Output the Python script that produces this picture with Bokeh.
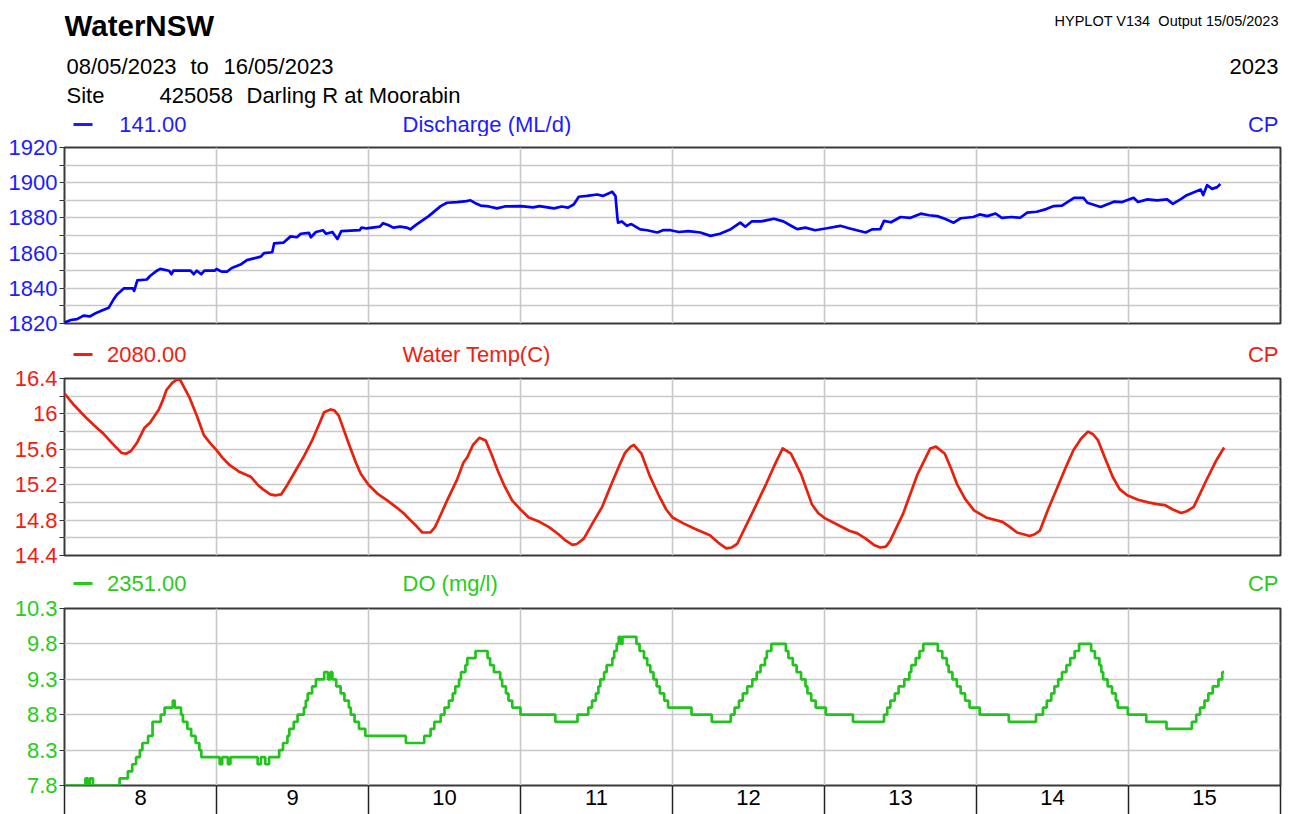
from bokeh.plotting import figure
from bokeh.layouts import column
from bokeh.models import Label, FixedTicker, PrintfTickFormatter, Range1d, Grid, BoxAnnotation
from bokeh.embed import file_html
from bokeh.resources import INLINE

# ---------------- data (hours since 08/05/2023 00:00) ----------------
DAY_EDGES = [0, 24, 48, 72, 96, 120, 144, 168, 192]
DAY_MIDS = [12, 36, 60, 84, 108, 132, 156, 180]
DAY_LABELS = ["8", "9", "10", "11", "12", "13", "14", "15"]

Q_TICKS = [1820, 1840, 1860, 1880, 1900, 1920]
Q_MINOR = [1830, 1850, 1870, 1890, 1910]
T_TICKS = [14.4, 14.8, 15.2, 15.6, 16.0, 16.4]
T_MINOR = [14.6, 15.0, 15.4, 15.8, 16.2]
DO_TICKS = [7.8, 8.3, 8.8, 9.3, 9.8, 10.3]

Q_HOURS = [0, 1, 2, 3, 4, 5, 6, 7, 7.8, 8.3, 9.4, 10.8, 11, 11.5, 13, 13.5, 14.6, 15.1, 16.5, 16.9,
           17.2, 19.9, 20.4, 20.9, 21.6, 22.1, 23.7, 24, 24.8, 25.7, 26.2, 26.7, 27.8, 28.8, 29.9,
           31, 31.5, 32.8, 33.1, 34.6, 35.7, 36.7, 37.3, 38.6, 38.9, 39.7, 40.8, 41.3, 42.3, 43.1,
           43.7, 46.6, 46.9, 47.7, 49.8, 50.3, 51.1, 51.9, 53, 54, 54.6, 55.5, 56.7, 57.5, 58.5,
           59.4, 60.4, 62, 63.5, 64.1, 64.8, 65.7, 67, 68.3, 69.5, 72, 74, 75, 77.3, 78.5, 79.5,
           80.4, 81.2, 82.5, 84.1, 85, 86.5, 87, 87.3, 87.4, 88, 88.8, 89.5, 90.9, 92, 93.6, 94.5,
           95.7, 97, 98.5, 100.4, 102, 103.5, 105.2, 106.7, 107.5, 108.5, 110, 112, 113.5, 115,
           115.7, 117, 118.5, 120.4, 122.5, 124, 126.5, 127.5, 128.8, 129.4, 130.5, 132, 133.5,
           135.2, 136.5, 137.8, 139, 140.4, 141.5, 143.5, 144.5, 145.7, 147, 148, 149.5, 150.9,
           152, 153.5, 155, 156.2, 157.5, 159.4, 160.9, 161.5, 163.6, 165.7, 167, 168.8, 169.5,
           171, 172.5, 174.1, 175, 176.2, 177.2, 179.4, 179.8, 180.4, 181.2, 182, 182.5]
Q_VALUES = [1820.5, 1822, 1822.5, 1824.5, 1824, 1826, 1827.5, 1829, 1834, 1836.5, 1840, 1840, 1838.5,
            1844.5, 1845, 1847, 1850, 1851, 1850, 1848, 1850, 1850, 1848, 1850, 1848, 1850, 1850,
            1851, 1849.5, 1849.5, 1851, 1852, 1853.5, 1856, 1857, 1858, 1860, 1860.5, 1865.5, 1866,
            1869.5, 1869, 1871, 1871.5, 1869, 1872, 1873, 1871, 1872, 1868, 1872.5, 1873, 1874.5,
            1874, 1875, 1877, 1876, 1874.5, 1875, 1874.5, 1873.5, 1876, 1879, 1881, 1884, 1886.7,
            1888.6, 1889, 1889.5, 1890, 1888.5, 1887, 1886.5, 1885.4, 1886.5, 1886.7, 1886, 1886.7,
            1885.4, 1886.5, 1885.8, 1887.6, 1892, 1892.5, 1893.3, 1892.5, 1894.8, 1892.4, 1880,
            1877.3, 1878, 1875.5, 1876.5, 1873.5, 1873, 1871.7, 1873, 1873, 1872, 1872.5, 1871.7,
            1869.8, 1871, 1873.6, 1877.3, 1875, 1878, 1878, 1879.5, 1878, 1875, 1873.6, 1874.5,
            1873, 1874.1, 1875.5, 1874, 1871.7, 1873.5, 1873.6, 1878.3, 1877.5, 1880.5, 1880,
            1882.4, 1881.5, 1881, 1879.5, 1877.3, 1879.8, 1880.5, 1882, 1881, 1882.5, 1880, 1880.5,
            1880.1, 1883, 1883.5, 1885, 1886.7, 1887, 1891.4, 1891.4, 1888.6, 1886.2, 1889.2, 1889,
            1891.4, 1889, 1890.5, 1890, 1890.5, 1888, 1890.5, 1892.9, 1896.1, 1893, 1898.6, 1896.5,
            1897.5, 1899.3]

T_HOURS = [0, 1.5, 3.5, 5, 6.1, 7.5, 9.0, 9.7, 10.5, 11.5, 12.6, 13.5, 14.9, 15.5, 16.1, 17.0, 17.8,
           18.3, 19.7, 21, 22, 23, 24, 25, 26.1, 27.5, 29.4, 30.5, 31.3, 32.5, 33.3, 34.2, 35.2,
           36.5, 37.8, 39.1, 40.3, 41.0, 42.0, 42.6, 43.3, 44.1, 44.9, 46.0, 46.8, 48, 49.4, 51,
           52.3, 53.5, 54.6, 55.6, 56.5, 57.8, 58.5, 59.4, 60.4, 62, 63.0, 63.6, 64.5, 65.5, 66.5,
           67.5, 68.4, 69.5, 70.7, 72, 73.3, 75, 76.5, 78, 79.1, 80.2, 80.9, 82, 83.5, 84.9, 86.2,
           87.5, 88.5, 89.4, 89.9, 90.5, 91.1, 92.4, 93.7, 95, 96, 97.8, 99.6, 101.9, 103.3, 104.5,
           105.3, 106.2, 107.5, 108.8, 110.8, 112.3, 113.4, 114.7, 116.3, 118, 119, 120.1, 122,
           123.9, 125.2, 126.5, 127.8, 128.8, 129.7, 130.4, 131.4, 132.4, 134.7, 136.7, 137.6,
           139, 140.0, 140.9, 142.2, 143.6, 145.5, 148.1, 149.3, 150.4, 152.4, 153.2, 154, 155.3,
           156.6, 158, 159.3, 160.5, 161.6, 162.4, 163.2, 164.3, 165.5, 166.6, 167.8, 169.5,
           171.1, 172.5, 173.7, 175, 176.3, 177.2, 178.3, 179.3, 180.3, 181.9, 183.1]
T_VALUES = [16.23, 16.1, 15.95, 15.85, 15.78, 15.67, 15.56, 15.55, 15.58, 15.68, 15.84, 15.9, 16.05,
            16.15, 16.27, 16.35, 16.39, 16.38, 16.19, 15.96, 15.76, 15.67, 15.59, 15.5, 15.42,
            15.35, 15.29, 15.2, 15.15, 15.09, 15.08, 15.09, 15.2, 15.36, 15.52, 15.70, 15.9, 16.02,
            16.05, 16.04, 15.98, 15.82, 15.66, 15.45, 15.32, 15.2, 15.10, 15.02, 14.95, 14.88, 14.80,
            14.73, 14.66, 14.66, 14.72, 14.86, 15.02, 15.26, 15.45, 15.51, 15.65, 15.73, 15.70,
            15.53, 15.36, 15.18, 15.02, 14.92, 14.83, 14.78, 14.72, 14.64, 14.57, 14.52, 14.53,
            14.59, 14.78, 14.95, 15.18, 15.40, 15.56, 15.63, 15.65, 15.6, 15.55, 15.3, 15.10, 14.92,
            14.83, 14.76, 14.70, 14.63, 14.54, 14.48, 14.49, 14.53, 14.72, 14.91, 15.21, 15.45,
            15.61, 15.55, 15.32, 14.98, 14.88, 14.82, 14.75, 14.68, 14.65, 14.59, 14.52, 14.49,
            14.5, 14.57, 14.72, 14.87, 15.32, 15.61, 15.63, 15.55, 15.38, 15.21, 15.04, 14.91,
            14.83, 14.78, 14.72, 14.66, 14.62, 14.64, 14.68, 14.92, 15.14, 15.38, 15.59, 15.72,
            15.80, 15.77, 15.70, 15.50, 15.29, 15.15, 15.08, 15.03, 15.00, 14.98, 14.97, 14.92,
            14.88, 14.9, 14.95, 15.1, 15.25, 15.48, 15.62]

DO_HOURS = [0, 3.3, 3.7, 4.0, 4.5, 8.7, 10.0, 10.7, 11.3, 11.9, 12.3, 13.2, 13.9, 15.2, 15.8, 17.1,
            17.4, 18.4, 18.7, 19.4, 20.0, 20.7, 21.3, 21.6, 24.5, 24.9, 25.8, 26.2, 30.5, 31.0, 31.7,
            32.3, 33.9, 34.5, 35.2, 35.5, 36.2, 36.8, 37.8, 38.1, 38.4, 39.1, 39.7, 41.0, 41.6, 42.0,
            42.3, 42.9, 43.6, 44.2, 44.9, 45.2, 45.8, 46.5, 47.5, 53.9, 56.8, 57.8, 58.4, 59.4, 60.0,
            60.7, 61.3, 61.7, 62.3, 62.6, 63.3, 63.6, 64.9, 66.8, 67.2, 67.8, 68.8, 69.1, 69.7, 70.1,
            70.7, 72.0, 77.5, 81.0, 82.7, 83.3, 83.9, 84.3, 84.6, 85.2, 85.6, 86.5, 86.8, 87.2, 87.5,
            87.8, 88.1, 90.3, 90.8, 91.5, 92.0, 92.5, 93.0, 93.5, 94.0, 94.7, 95.3, 99.0, 102.2,
            105.2, 105.8, 106.5, 107.1, 107.8, 108.6, 109.3, 109.9, 110.6, 110.9, 111.6, 113.9,
            114.3, 115.0, 115.6, 116.3, 117.0, 117.3, 117.9, 118.6, 120.2, 124.5, 129.4, 129.9,
            130.4, 131.1, 131.7, 132.6, 133.4, 133.7, 134.4, 135.0, 135.6, 137.9, 138.6, 139.3,
            139.6, 140.2, 140.9, 141.5, 142.2, 142.9, 144.5, 149.1, 153.4, 154.5, 155.1, 155.8,
            156.3, 156.9, 157.5, 158.2, 158.8, 159.5, 160.2, 162.1, 162.7, 163.4, 163.7, 164.0,
            164.7, 165.4, 166.0, 166.3, 167.9, 170.8, 174.0, 178.0, 178.7, 179.3, 180.0, 180.6,
            181.3, 182.2, 182.8, 183.1]
DO_VALUES = [7.8, 7.9, 7.8, 7.9, 7.8, 7.9, 8.0, 8.1, 8.2, 8.3, 8.4, 8.5, 8.7, 8.8, 8.9, 9.0, 8.9,
             8.8, 8.7, 8.6, 8.5, 8.4, 8.3, 8.2, 8.1, 8.2, 8.1, 8.2, 8.1, 8.2, 8.1, 8.2, 8.3, 8.4,
             8.5, 8.6, 8.7, 8.8, 8.9, 9.0, 9.1, 9.2, 9.3, 9.4, 9.3, 9.4, 9.3, 9.2, 9.1, 9.0, 8.9,
             8.8, 8.7, 8.6, 8.5, 8.4, 8.5, 8.6, 8.7, 8.8, 8.9, 9.0, 9.1, 9.2, 9.3, 9.4, 9.5, 9.6,
             9.7, 9.6, 9.5, 9.4, 9.3, 9.2, 9.1, 9.0, 8.9, 8.8, 8.7, 8.8, 8.9, 9.0, 9.1, 9.2, 9.3,
             9.4, 9.5, 9.6, 9.7, 9.8, 9.9, 9.8, 9.9, 9.8, 9.7, 9.6, 9.5, 9.4, 9.3, 9.2, 9.1, 9.0,
             8.9, 8.8, 8.7, 8.8, 8.9, 9.0, 9.1, 9.2, 9.3, 9.4, 9.5, 9.6, 9.7, 9.8, 9.7, 9.6, 9.5,
             9.4, 9.3, 9.2, 9.1, 9.0, 8.9, 8.8, 8.7, 8.8, 8.9, 9.0, 9.1, 9.2, 9.3, 9.4, 9.5, 9.6,
             9.7, 9.8, 9.7, 9.6, 9.5, 9.4, 9.3, 9.2, 9.1, 9.0, 8.9, 8.8, 8.7, 8.8, 8.9, 9.0, 9.1,
             9.2, 9.3, 9.4, 9.5, 9.6, 9.7, 9.8, 9.7, 9.6, 9.5, 9.4, 9.3, 9.2, 9.1, 9.0, 8.9, 8.8,
             8.7, 8.6, 8.7, 8.8, 8.9, 9.0, 9.1, 9.2, 9.3, 9.4, 9.4]

# ---------------- styling ----------------
FONT = "Liberation Sans"
BLUE_LINE, BLUE_TXT = "#0000ff", "#1c1cff"
RED_LINE, RED_TXT = "#e8200c", "#f02010"
GREEN_LINE, GREEN_TXT = "#22c31c", "#28cc18"
GRID_C = "#c8c8c8"
LEFT, FRAME_W, RIGHT = 64, 1216, 8


def header_fig(h):
    """Blank strip with the same frame as the panels; data units == page pixels (y down)."""
    p = figure(frame_width=FRAME_W, frame_height=h, min_border_left=LEFT, min_border_right=RIGHT,
               min_border_top=0, min_border_bottom=0,
               x_range=Range1d(LEFT, LEFT + FRAME_W), y_range=Range1d(h, 0),
               x_axis_location=None, y_axis_location=None,
               toolbar_location=None, output_backend="svg")
    p.outline_line_color = None
    p.background_fill_color = "white"
    p.border_fill_color = "white"
    p.grid.visible = False
    return p


def txt(p, px, py, s, size="22px", color="black", align="left", bold=False):
    p.add_layout(Label(x=px, y=py, text=s, text_font=FONT, text_font_size=size,
                       text_color=color, text_align=align, text_baseline="middle",
                       text_font_style="bold" if bold else "normal"))


def series_header(p, py, val, name, color):
    p.add_layout(BoxAnnotation(left=73, right=92, top=py - 1.5, bottom=py + 1.5,
                               fill_color=color, fill_alpha=1, line_color=None))
    txt(p, 186, py, val, color=color, align="right")
    txt(p, 402, py, name, color=color)
    txt(p, 1278, py, "CP", color=color, align="right")


def panel_fig(top, bottom, frame_h, y_lo, y_hi, show_x):
    p = figure(frame_width=FRAME_W, frame_height=frame_h,
               min_border_left=LEFT, min_border_right=RIGHT,
               min_border_top=top, min_border_bottom=bottom,
               x_range=Range1d(0, 192), y_range=Range1d(y_lo, y_hi),
               toolbar_location=None, output_backend="svg",
               x_axis_location="below" if show_x else None)
    p.background_fill_color = "white"
    p.border_fill_color = "white"
    p.outline_line_color = "#3a3a3a"
    p.outline_line_width = 2
    p.outline_line_alpha = 1
    p.center = [r for r in p.center if not isinstance(r, Grid)]
    return p


def add_grids(p, yticks):
    p.add_layout(Grid(dimension=0, ticker=FixedTicker(ticks=DAY_EDGES),
                      grid_line_color=GRID_C, grid_line_width=1.6), "center")
    p.add_layout(Grid(dimension=1, ticker=FixedTicker(ticks=yticks),
                      grid_line_color=GRID_C, grid_line_width=1.6), "center")


def style_y(p, ticks, minor, color):
    ax = p.yaxis[0]
    ax.ticker = FixedTicker(ticks=ticks, minor_ticks=minor)
    ax.formatter = PrintfTickFormatter(format="%g")
    ax.major_label_text_font = FONT
    ax.major_label_text_font_size = "22px"
    ax.major_label_text_color = color
    ax.major_label_standoff = 2
    ax.major_tick_out = 5
    ax.major_tick_in = 0
    ax.minor_tick_out = 5
    ax.minor_tick_in = 0
    ax.major_tick_line_color = "#333333"
    ax.minor_tick_line_color = "#333333"
    ax.axis_line_color = None


# ---------------- top header (page y 0..136) ----------------
h1 = header_fig(136)
txt(h1, 64, 25, "WaterNSW", size="29.5px", bold=True)
txt(h1, 1054, 20, "HYPLOT V134", size="14.5px")
txt(h1, 1278, 20, "Output 15/05/2023", size="14.5px", align="right")
txt(h1, 66, 66, "08/05/2023")
txt(h1, 190, 66, "to")
txt(h1, 223, 66, "16/05/2023")
txt(h1, 1278, 66, "2023", align="right")
txt(h1, 66, 95, "Site")
txt(h1, 159, 95, "425058")
txt(h1, 246, 95, "Darling R at Moorabin")
series_header(h1, 124, "141.00", "Discharge (ML/d)", BLUE_TXT)

# ---------------- panel 1 : discharge (page y 136..337) ----------------
p1 = panel_fig(11, 14, 176, 1820, 1920, False)
add_grids(p1, sorted(Q_TICKS + Q_MINOR))
style_y(p1, Q_TICKS, Q_MINOR, BLUE_TXT)
p1.line(Q_HOURS, Q_VALUES, line_color=BLUE_LINE, line_width=2.7, line_join="round")

# ---------------- header 2 (page y 337..366) ----------------
h2 = header_fig(29)
series_header(h2, 17, "2080.00", "Water Temp(C)", RED_TXT)

# ---------------- panel 2 : water temperature (page y 366..568) ----------------
p2 = panel_fig(12, 13, 177, 14.4, 16.4, False)
add_grids(p2, sorted(T_TICKS + T_MINOR))
style_y(p2, T_TICKS, T_MINOR, RED_TXT)
p2.line(T_HOURS, T_VALUES, line_color=RED_LINE, line_width=2.7, line_join="round")

# ---------------- header 3 (page y 568..596) ----------------
h3 = header_fig(28)
series_header(h3, 15, "2351.00", "DO (mg/l)", GREEN_TXT)

# ---------------- panel 3 : dissolved oxygen (page y 596..814) ----------------
p3 = panel_fig(12, 29, 177, 7.8, 10.3, True)
add_grids(p3, DO_TICKS)
style_y(p3, DO_TICKS, [], GREEN_TXT)
p3.step(DO_HOURS, DO_VALUES, mode="after", line_color=GREEN_LINE, line_width=2.7)

xa = p3.xaxis[0]
xa.ticker = FixedTicker(ticks=DAY_MIDS, minor_ticks=DAY_EDGES)
xa.major_label_overrides = {m: lab for m, lab in zip(DAY_MIDS, DAY_LABELS)}
xa.major_label_text_font = FONT
xa.major_label_text_font_size = "22px"
xa.major_label_text_color = "black"
xa.major_tick_out = 29
xa.major_tick_in = 0
xa.major_tick_line_color = None
xa.minor_tick_out = 29
xa.minor_tick_in = 0
xa.minor_tick_line_color = "#222222"
xa.minor_tick_line_width = 1.5
xa.major_label_standoff = -25
xa.axis_line_color = None

layout = column(h1, p1, h2, p2, h3, p3, spacing=0)
open("out.html", "w").write(file_html(layout, INLINE))
